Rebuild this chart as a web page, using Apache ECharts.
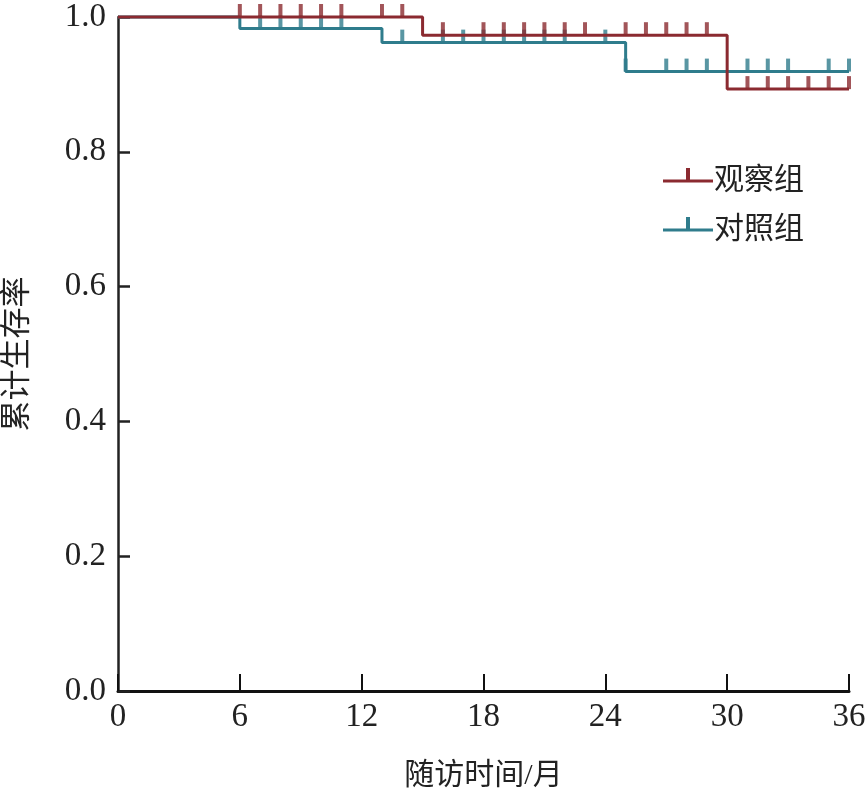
<!DOCTYPE html>
<html>
<head>
<meta charset="utf-8">
<script src="https://cdn.jsdelivr.net/npm/echarts@6/dist/echarts.min.js"></script>
<style>
  html, body { margin: 0; padding: 0; background: #fff; }
  #chart { width: 865px; height: 793px; }
</style>
</head>
<body>
<div id="chart"></div>
<script>
// 生存曲线数据 (月, 累计生存率)
const obsSteps = [[0, 1.0], [15, 0.973], [30, 0.893], [36, 0.893]];
const ctrlSteps = [[0, 1.0], [6, 0.983], [13, 0.962], [25, 0.919], [36, 0.919]];

// 删失时间点
const obsCensor = [6, 7, 8, 9, 10, 11, 13, 14, 16, 18, 19, 20, 21, 22, 23, 25, 26, 27, 28, 29, 31, 32, 33, 34, 35, 36];
const ctrlCensor = [7, 8, 9, 10, 11, 14, 16, 17, 18, 19, 20, 21, 22, 24, 25, 27, 28, 29, 31, 32, 33, 35, 36];

const xTicks = [0, 6, 12, 18, 24, 30, 36];
const yTicks = [0, 0.2, 0.4, 0.6, 0.8, 1.0];

const RED = '#8b2a30';
const TEAL = '#2f7c8c';
const numFont = '"Liberation Serif", "Noto Sans CJK SC", serif';

// 删失点取所在阶梯的生存率
function survAt(steps, t) {
  let v = steps[0][1];
  for (let i = 0; i < steps.length; i++) {
    if (steps[i][0] <= t) v = steps[i][1];
  }
  return v;
}

const legendIcon = 'path://M0,0h0.01v0.01h-0.01Z M0,13.5H23V2H27V13.5H50V16.5H0Z M0,29.99h0.01v0.01h-0.01Z';

const chart = echarts.init(document.getElementById('chart'));

chart.setOption({
  animation: false,
  grid: { left: 118, right: 16, top: 17, bottom: 102, outerBoundsMode: 'none', containLabel: false },
  legend: {
    data: [
      { name: '观察组', icon: legendIcon, itemStyle: { color: RED } },
      { name: '对照组', icon: legendIcon, itemStyle: { color: TEAL } }
    ],
    orient: 'vertical',
    left: 658,
    top: 161,
    itemWidth: 52,
    itemHeight: 30,
    itemGap: 19,
    textStyle: { fontSize: 30, color: '#222', fontFamily: numFont, padding: [0, 0, 0, -5] }
  },
  xAxis: {
    type: 'value',
    min: 0,
    max: 36,
    interval: 6,
    name: '随访时间/月',
    nameLocation: 'middle',
    nameGap: 70,
    nameTextStyle: { fontSize: 30, color: '#222', fontFamily: numFont },
    axisLine: { show: true, lineStyle: { color: '#111', width: 3 } },
    axisTick: { show: true, inside: true, length: 17, lineStyle: { color: '#111', width: 2 } },
    axisLabel: {
      fontSize: 33, color: '#222', fontFamily: numFont, margin: 10,
      formatter: v => xTicks.includes(v) ? String(v) : ''
    },
    splitLine: { show: false }
  },
  yAxis: {
    type: 'value',
    min: 0,
    max: 1,
    interval: 0.2,
    name: '累计生存率',
    nameLocation: 'middle',
    nameRotate: 90,
    nameGap: 85,
    nameTextStyle: { fontSize: 31, color: '#222', fontFamily: numFont },
    axisLine: { show: true, lineStyle: { color: '#222', width: 2.5 } },
    axisTick: { show: true, inside: true, length: 12, lineStyle: { color: '#222', width: 2.5 } },
    axisLabel: {
      fontSize: 33, color: '#222', fontFamily: numFont, margin: 12,
      formatter: v => yTicks.some(t => Math.abs(t - v) < 1e-6) ? v.toFixed(1) : ''
    },
    splitLine: { show: false }
  },
  series: [
    {
      name: '对照组',
      type: 'line',
      step: 'end',
      data: ctrlSteps,
      showSymbol: false,
      clip: false,
      lineStyle: { color: TEAL, width: 3 },
      itemStyle: { color: TEAL },
      z: 2
    },
    {
      name: '对照组',
      type: 'scatter',
      data: ctrlCensor.map(t => [t, survAt(ctrlSteps, t)]),
      symbol: 'rect',
      symbolSize: [4, 13],
      symbolOffset: [0, -6.5],
      clip: false,
      itemStyle: { color: TEAL },
      z: 2
    },
    {
      name: '观察组',
      type: 'line',
      step: 'end',
      data: obsSteps,
      showSymbol: false,
      clip: false,
      lineStyle: { color: RED, width: 3 },
      itemStyle: { color: RED },
      z: 3
    },
    {
      name: '观察组',
      type: 'scatter',
      data: obsCensor.map(t => [t, survAt(obsSteps, t)]),
      symbol: 'rect',
      symbolSize: [4, 13],
      symbolOffset: [0, -6.5],
      clip: false,
      itemStyle: { color: RED },
      z: 3
    }
  ]
});
</script>
</body>
</html>
